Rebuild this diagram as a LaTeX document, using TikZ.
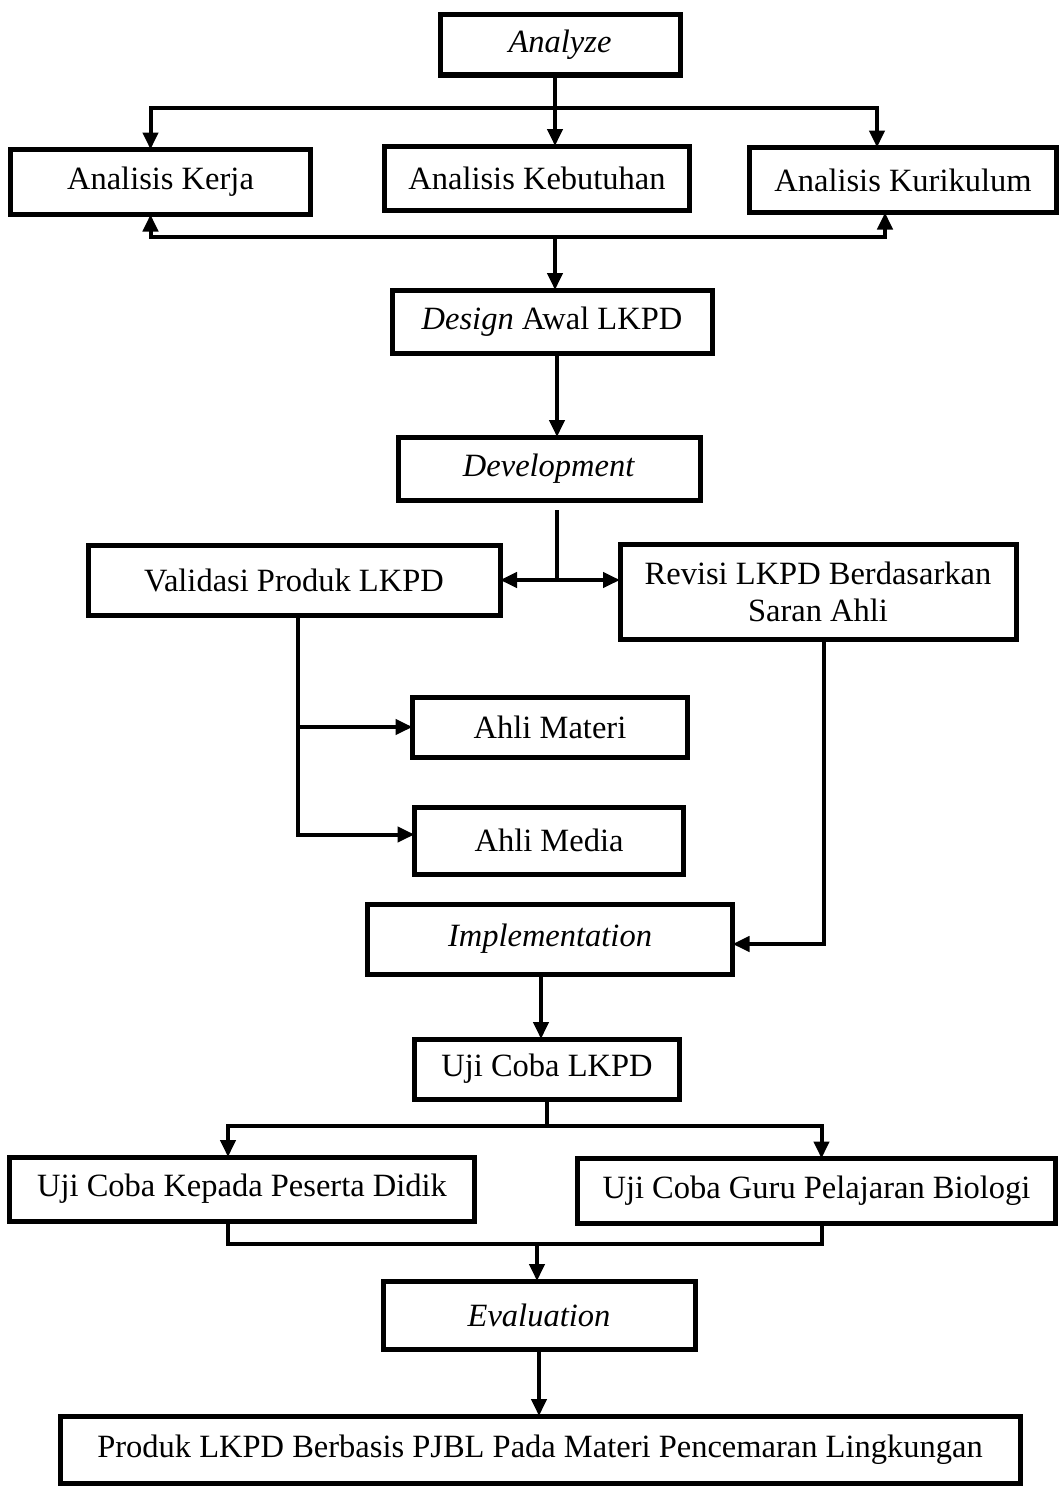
\documentclass[tikz,border=0pt]{standalone}
\usepackage{fontspec}
\setmainfont{Liberation Serif}
\usetikzlibrary{positioning, arrows.meta}

\begin{document}
\begin{tikzpicture}[
		x=1pt, y=1pt,
		box/.style={draw, line width=5pt, align=center, inner sep=4pt, outer sep=0pt, font=\fontsize{32.5}{37}\selectfont},
		arrow/.style={->, >={Triangle[length=17pt,width=15pt]}, line width=4pt},
		biarrow/.style={<->, >={Triangle[length=17pt,width=15pt]}, line width=4pt},
		line/.style={line width=4pt}
		]
		
		\useasboundingbox (0,0) rectangle (1059,-1488);
		
		% ==========================================
		% ANALYZE
		% ==========================================
		\node[box, minimum width=240pt, minimum height=60pt] (analyze) at (560,-45) {\textit{Analyze}};
		\node[box, minimum width=305pt, minimum height=64pt, below=71pt of analyze, xshift=-23pt] (kebutuhan) {Analisis Kebutuhan};
		\node[box, minimum width=300pt, minimum height=65pt, left=74pt of kebutuhan, yshift=-4pt] (kerja) {Analisis Kerja};
		\node[box, minimum width=307pt, minimum height=65pt, right=60pt of kebutuhan, yshift=-2pt] (kurikulum) {Analisis Kurikulum};
		
		\coordinate[below=33pt of analyze, xshift=-5pt] (split1);
		\draw[arrow] (split1 |- analyze.south) -- (split1 |- kebutuhan.north);
		\draw[arrow] (split1) -| ([xshift=-10pt]kerja.north);
		\draw[arrow] (split1) -| ([xshift=-26pt]kurikulum.north);
		
		\coordinate[below=27pt of kebutuhan, xshift=18pt] (merge1);
		\draw[arrow] (merge1) -| ([xshift=-10pt]kerja.south);
		\draw[arrow] (merge1) -| ([xshift=-18pt]kurikulum.south);
		
		% ==========================================
		% DESIGN
		% ==========================================
		\node[box, minimum width=320pt, minimum height=63pt, below=80pt of kebutuhan, xshift=15pt] (design) {\textit{Design} Awal LKPD};
		\draw[arrow] (merge1) -- (merge1 |- design.north);
		
		% ==========================================
		% DEVELOPMENT
		% ==========================================
		\node[box, minimum width=302pt, minimum height=63pt, below=84pt of design, xshift=-3pt] (development) {\textit{Development}};
		\draw[arrow] ([xshift=5pt]design.south) -- ([xshift=5pt]design.south |- development.north);
		
		\node[box, minimum width=412pt, minimum height=70pt, below=45pt of development, xshift=-255pt] (validasi) {Validasi Produk LKPD};
		\node[box, minimum width=396pt, minimum height=95pt, right=120pt of validasi, yshift=-12pt] (revisi) {Revisi LKPD Berdasarkan\\Saran Ahli};
		
		\draw[line] ([xshift=8pt,yshift=-10pt]development.south) -- ([xshift=8pt]development.south |- validasi.east);
		\draw[biarrow] (validasi.east) -- (validasi.east -| revisi.west);
		
		\node[box, minimum width=275pt, minimum height=60pt, below=82pt of validasi, xshift=256pt] (materi) {Ahli Materi};
		\node[box, minimum width=269pt, minimum height=67pt, below=50pt of materi, xshift=-1pt] (media) {Ahli Media};
		
		\draw[arrow] ([xshift=4pt]validasi.south) |- (materi.west);
		\draw[arrow] ([xshift=4pt]validasi.south) |- ([yshift=6pt]media.west);
		
		% ==========================================
		% IMPLEMENTATION
		% ==========================================
		\node[box, minimum width=365pt, minimum height=70pt, below=30pt of media, xshift=1pt] (implementation) {\textit{Implementation}};
		\draw[arrow] ([xshift=6pt]revisi.south) |- ([yshift=-5pt]implementation.east);
		
		\node[box, minimum width=265pt, minimum height=60pt, below=65pt of implementation, xshift=-3pt] (ujicoba) {Uji Coba LKPD};
		\draw[arrow] ([xshift=-9pt]implementation.south) -- ([xshift=-9pt]implementation.south |- ujicoba.north);
		
		\node[box, minimum width=465pt, minimum height=64pt, below=58pt of ujicoba, xshift=-305pt] (peserta) {Uji Coba Kepada Peserta Didik};
		\node[box, minimum width=478pt, minimum height=65pt, right=103pt of peserta, yshift=-2pt] (guru) {Uji Coba Guru Pelajaran Biologi};
		
		\coordinate[below=27pt of ujicoba] (split2);
		\draw[line] (ujicoba.south) -- (split2);
		\draw[arrow] (split2) -| ([xshift=-14pt]peserta.north);
		\draw[arrow] (split2) -| ([xshift=5pt]guru.north);
		
		% ==========================================
		% EVALUATION
		% ==========================================
		\node[box, minimum width=312pt, minimum height=68pt, below=182pt of ujicoba, xshift=-8pt] (evaluation) {\textit{Evaluation}};
		
		\coordinate[below=23pt of peserta] (merge2);
		\draw[line] ([xshift=-14pt]peserta.south) |- ([xshift=5pt]guru.south |- merge2) -- ([xshift=5pt]guru.south);
		\draw[arrow] ([xshift=-2pt]evaluation.north |- merge2) -- ([xshift=-2pt]evaluation.north);
		
		\node[box, minimum width=960pt, minimum height=67pt, below=67pt of evaluation, xshift=1pt] (produk) {Produk LKPD Berbasis PJBL Pada Materi Pencemaran Lingkungan};
		\draw[arrow] (evaluation.south) -- (evaluation.south |- produk.north);
		
	\end{tikzpicture}
\end{document}
